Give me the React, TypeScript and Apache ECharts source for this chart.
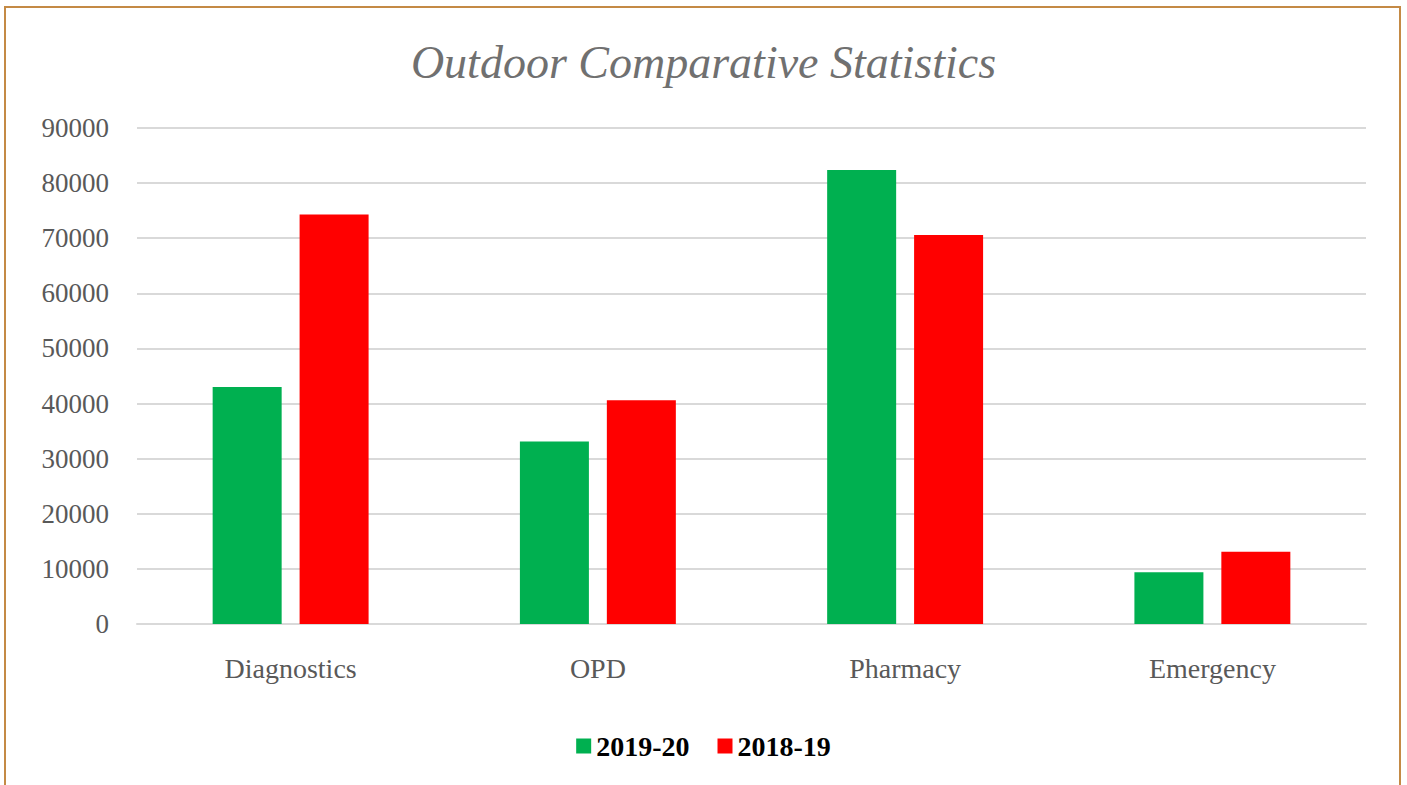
import React, { useEffect, useRef } from "react";
import * as echarts from "echarts";

const categories = ["Diagnostics", "OPD", "Pharmacy", "Emergency"];
const series2019 = [43000, 33100, 82400, 9400];
const series2018 = [74300, 40600, 70600, 13100];
const seriesNames = ["2019-20", "2018-19"];
const yTicks = { min: 0, max: 90000, interval: 10000 };

export default function App() {
  const ref = useRef<HTMLDivElement>(null);
  useEffect(() => {
    if (!ref.current) return;
    const chart = echarts.init(ref.current, null, { renderer: "svg" });
    const font = "'Liberation Serif', 'DejaVu Serif', serif";
    chart.setOption({
      animation: false,
      backgroundColor: "#ffffff",
      title: {
        text: "Outdoor Comparative Statistics",
        left: "center",
        top: 34,
        textStyle: {
          fontFamily: font,
          fontStyle: "italic",
          fontWeight: "normal",
          fontSize: 46,
          color: "#707070",
        },
      },
      graphic: [
        {
          type: "rect",
          shape: { x: 5, y: 7, width: 1395, height: 820 },
          style: { fill: "none", stroke: "#C48A45", lineWidth: 2 },
          silent: true,
        },
      ],
      legend: {
        data: seriesNames,
        left: "center",
        top: 727,
        itemWidth: 15,
        itemHeight: 15,
        itemGap: 28,
        icon: "rect",
        textStyle: {
          fontFamily: font,
          fontWeight: "bold",
          fontSize: 28,
          color: "#000000",
        },
      },
      grid: { left: 137, right: 41, top: 128, bottom: 161 },
      xAxis: {
        type: "category",
        data: categories,
        axisLine: { show: true, lineStyle: { color: "#d9d9d9", width: 2 } },
        axisTick: { show: false },
        axisLabel: {
          margin: 30,
          fontFamily: font,
          fontSize: 28,
          color: "#595959",
        },
      },
      yAxis: {
        type: "value",
        min: yTicks.min,
        max: yTicks.max,
        interval: yTicks.interval,
        axisLine: { show: false },
        axisTick: { show: false },
        splitLine: { lineStyle: { color: "#d9d9d9", width: 2 } },
        axisLabel: {
          margin: 28,
          fontFamily: font,
          fontSize: 27,
          color: "#595959",
          formatter: (v: number) => String(v),
        },
      },
      series: [
        {
          name: seriesNames[0],
          type: "bar",
          data: series2019,
          barWidth: 69,
          barGap: "26%",
          itemStyle: { color: "#00B050" },
        },
        {
          name: seriesNames[1],
          type: "bar",
          data: series2018,
          barWidth: 69,
          itemStyle: { color: "#FF0000" },
        },
      ],
    });
    return () => chart.dispose();
  }, []);
  return (
    <div
      ref={ref}
      style={{ position: "fixed", left: 0, top: 0, width: 1407, height: 785 }}
    />
  );
}
